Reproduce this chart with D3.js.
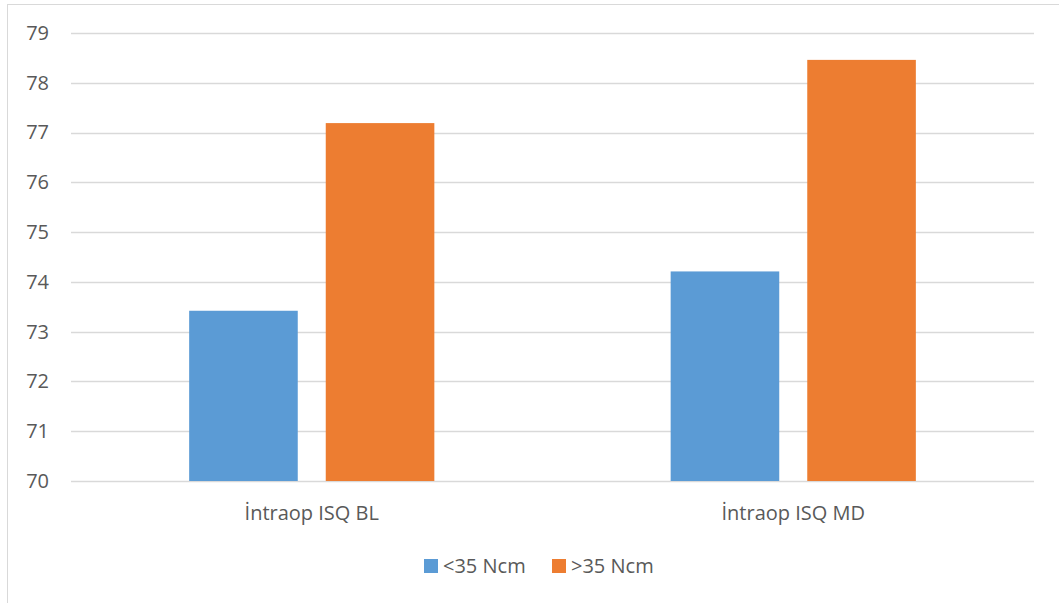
<!DOCTYPE html>
<html>
<head>
<meta charset="utf-8">
<script src="https://cdn.jsdelivr.net/npm/d3@7"></script>
<style>
  html, body { margin: 0; padding: 0; background: #fff; }
  svg { display: block; font-family: "Open Sans", sans-serif; }
</style>
</head>
<body>
<svg id="chart" width="1059" height="603"></svg>
<script>
// Categories, series and values
const categories = ["İntraop ISQ BL", "İntraop ISQ MD"];
const seriesNames = ["<35 Ncm", ">35 Ncm"];
const below35 = [73.42, 74.21];
const above35 = [77.19, 78.46];
const yTicks = [70, 71, 72, 73, 74, 75, 76, 77, 78, 79];
const colors = ["#5B9BD5", "#ED7D31"];

const seriesValues = [below35, above35];
const rows = categories.map((c, i) => ({
  category: c,
  values: seriesNames.map((s, j) => ({ series: s, value: seriesValues[j][i], idx: j }))
}));

const svg = d3.select("#chart");
const W = 1059, H = 603;
const m = { left: 71, right: 25, top: 33, bottom: 122 };

// outer chart border
svg.append("rect")
  .attr("x", 7.5).attr("y", 4.5)
  .attr("width", W + 10).attr("height", H + 10)
  .attr("fill", "#fff").attr("stroke", "#D9D9D9").attr("stroke-width", 1);

const x0 = d3.scaleBand().domain(categories).range([m.left, W - m.right]).padding(0);
const x1 = d3.scaleBand().domain(seriesNames).range([0, x0.bandwidth()])
  .paddingInner(0.205).paddingOuter(0.865);
const y = d3.scaleLinear().domain([70, 79]).range([H - m.bottom, m.top]);

// gridlines
svg.append("g")
  .selectAll("line").data(yTicks).join("line")
  .attr("x1", m.left).attr("x2", W - m.right)
  .attr("y1", d => Math.round(y(d)) + 0.5).attr("y2", d => Math.round(y(d)) + 0.5)
  .attr("stroke", "#D9D9D9").attr("stroke-width", 1.3);

// y axis labels
const yAxis = d3.axisLeft(y).tickValues(yTicks).tickSize(0).tickPadding(22);
const gy = svg.append("g").attr("transform", `translate(${m.left},0)`).call(yAxis);
gy.select(".domain").remove();
gy.selectAll("text").attr("fill", "#595959").style("font-size", "20px")
  .style("font-family", "'Open Sans', sans-serif");

// bars
svg.append("g").selectAll("g").data(rows).join("g")
  .attr("transform", d => `translate(${x0(d.category)},0)`)
  .selectAll("rect").data(d => d.values).join("rect")
  .attr("x", d => x1(d.series))
  .attr("width", x1.bandwidth())
  .attr("y", d => y(d.value))
  .attr("height", d => y(70) - y(d.value))
  .attr("fill", d => colors[d.idx]);

// x axis labels
const xAxis = d3.axisBottom(x0).tickSize(0).tickPadding(25);
const gx = svg.append("g").attr("transform", `translate(0,${y(70)})`).call(xAxis);
gx.select(".domain").remove();
gx.selectAll("text").attr("fill", "#595959").style("font-size", "20px")
  .style("font-family", "'Open Sans', sans-serif");

// legend
const legendX = [424, 552];
const leg = svg.append("g").selectAll("g").data(seriesNames).join("g")
  .attr("transform", (d, i) => `translate(${legendX[i]},559)`);
leg.append("rect").attr("width", 14).attr("height", 14).attr("fill", (d, i) => colors[i]);
leg.append("text").attr("x", 19).attr("y", 13.5)
  .attr("fill", "#595959").style("font-size", "20px").text(d => d);
</script>
</body>
</html>
